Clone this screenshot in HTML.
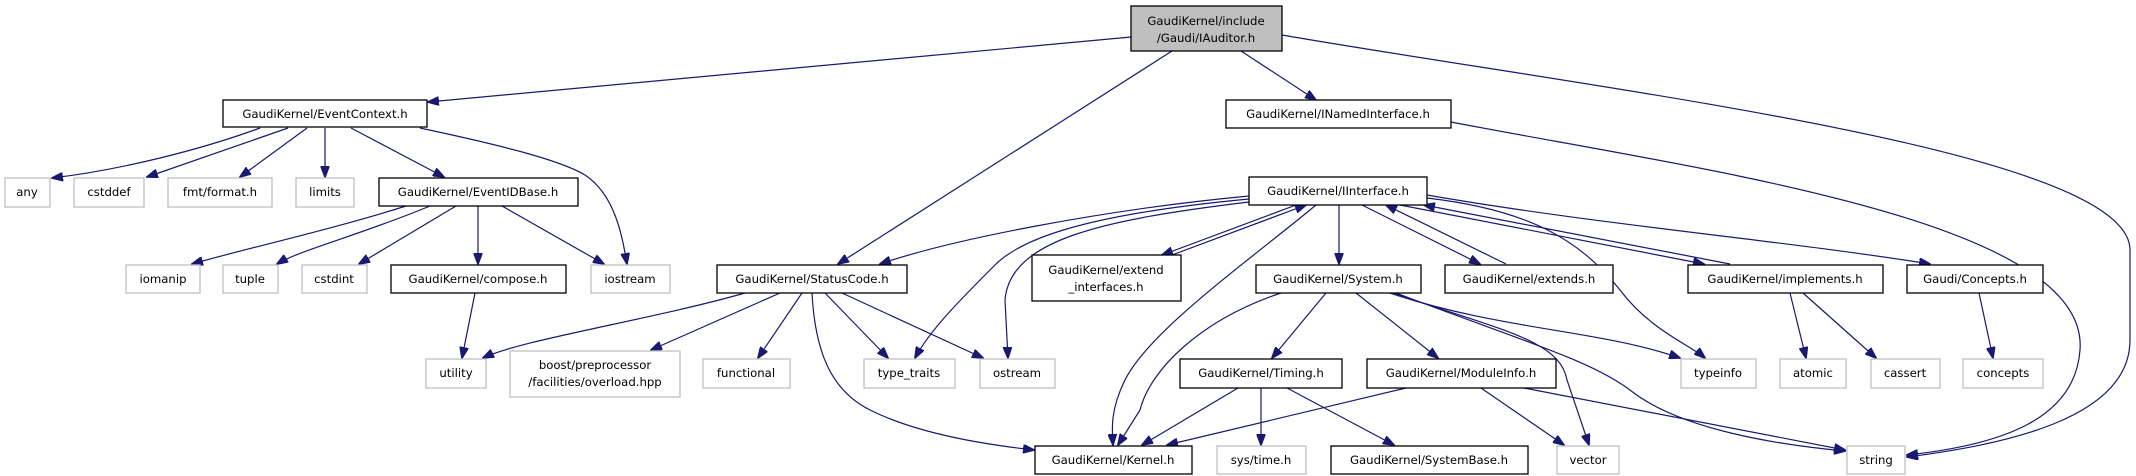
<!DOCTYPE html>
<html><head><meta charset="utf-8"><style>
html,body{margin:0;padding:0;background:#fff;}
svg{display:block;}
text{font-family:"DejaVu Sans","Liberation Sans",sans-serif;font-size:11.7px;fill:#000;}
.n{fill:#fff;stroke:#000;stroke-width:1.3;}
.s{fill:#fff;stroke:#bfbfbf;stroke-width:1.3;}
.r{fill:#bfbfbf;stroke:#000;stroke-width:1.3;}
path{fill:none;stroke:#191970;stroke-width:1.2;}
</style></head><body>
<svg width="2136" height="476" viewBox="0 0 2136 476" xmlns="http://www.w3.org/2000/svg">
<defs><marker id="a" markerWidth="12" markerHeight="9" refX="11" refY="4.5" orient="auto" markerUnits="userSpaceOnUse"><polygon points="0,0 12,4.5 0,9" fill="#191970" stroke="#191970"/></marker></defs>
<g marker-end="url(#a)">
<path d="M1131,37 L428,102"/>
<path d="M1172,51 L838,264"/>
<path d="M1241,51 L1316,100"/>
<path d="M1282,35 C1600,90 2130,150 2130,250 L2130,340 C2130,420 2000,445 1907,457"/>
<path d="M1451,122 C1700,170 2090,220 2080,350 C2075,420 2000,445 1907,455"/>
<path d="M260,128 C200,150 120,170 52,178"/>
<path d="M288,128 L147,177"/>
<path d="M307,128 L240,177"/>
<path d="M325,128 L325,177"/>
<path d="M351,128 L444,177"/>
<path d="M420,128 C500,145 560,160 585,175 C615,195 622,235 627,264"/>
<path d="M406,206 C330,230 240,250 192,264"/>
<path d="M430,206 C360,235 300,250 277,264"/>
<path d="M456,206 L359,264"/>
<path d="M478,206 L478,264"/>
<path d="M502,206 L604,264"/>
<path d="M475,293 L462,358"/>
<path d="M745,293 C650,320 520,340 483,358"/>
<path d="M780,293 L651,350"/>
<path d="M802,293 L758,358"/>
<path d="M825,293 L888,358"/>
<path d="M842,293 L983,358"/>
<path d="M812,293 C815,350 830,390 870,410 C920,435 990,445 1034,450"/>
<path d="M1249,196 C1100,210 950,240 880,264"/>
<path d="M1249,199 C1080,215 1020,240 995,265 C960,300 930,330 915,358"/>
<path d="M1249,202 C1100,220 1010,240 1005,300 L1008,358"/>
<path d="M1296,205 L1162,255"/>
<path d="M1172,255 L1306,205"/>
<path d="M1316,205 C1250,260 1150,330 1125,380 C1110,410 1112,430 1113,445"/>
<path d="M1339,205 L1339,264"/>
<path d="M1362,205 L1480,264"/>
<path d="M1506,264 L1386,205"/>
<path d="M1400,205 L1704,264"/>
<path d="M1730,264 L1424,205"/>
<path d="M1427,198 C1530,210 1580,240 1620,290 C1650,330 1690,345 1705,358"/>
<path d="M1427,195 C1600,225 1780,240 1930,264"/>
<path d="M1281,293 C1200,320 1150,370 1140,410 L1118,445"/>
<path d="M1326,293 L1272,358"/>
<path d="M1356,293 L1438,358"/>
<path d="M1390,293 C1500,330 1600,330 1680,358"/>
<path d="M1393,293 C1500,330 1560,340 1567,380 L1589,445"/>
<path d="M1396,293 C1520,340 1590,360 1630,390 C1680,430 1780,445 1845,451"/>
<path d="M1238,388 L1142,445"/>
<path d="M1261,388 L1261,445"/>
<path d="M1287,388 L1394,445"/>
<path d="M1406,388 L1167,445"/>
<path d="M1481,388 L1564,445"/>
<path d="M1524,388 L1845,450"/>
<path d="M1790,293 L1806,358"/>
<path d="M1803,293 L1876,358"/>
<path d="M1979,293 L1993,358"/>
</g>
<g text-anchor="middle">
<rect class="r" x="1131" y="6" width="151" height="45"/><text x="1206" y="25">GaudiKernel/include</text><text x="1206" y="42">/Gaudi/IAuditor.h</text>
<rect class="n" x="223" y="100" width="204" height="27"/><text x="325" y="118">GaudiKernel/EventContext.h</text>
<rect class="n" x="1226" y="100" width="225" height="28"/><text x="1338" y="118">GaudiKernel/INamedInterface.h</text>
<rect class="s" x="5" y="178" width="45" height="29"/><text x="27" y="196">any</text>
<rect class="s" x="74" y="178" width="70" height="29"/><text x="109" y="196">cstddef</text>
<rect class="s" x="168" y="178" width="104" height="29"/><text x="220" y="196">fmt/format.h</text>
<rect class="s" x="296" y="178" width="58" height="29"/><text x="325" y="196">limits</text>
<rect class="n" x="379" y="178" width="199" height="28"/><text x="478" y="196">GaudiKernel/EventIDBase.h</text>
<rect class="n" x="1249" y="177" width="178" height="28"/><text x="1338" y="195">GaudiKernel/IInterface.h</text>
<rect class="s" x="126" y="265" width="74" height="28"/><text x="163" y="283">iomanip</text>
<rect class="s" x="223" y="265" width="55" height="28"/><text x="250" y="283">tuple</text>
<rect class="s" x="302" y="265" width="65" height="28"/><text x="334" y="283">cstdint</text>
<rect class="n" x="391" y="265" width="175" height="28"/><text x="478" y="283">GaudiKernel/compose.h</text>
<rect class="s" x="591" y="265" width="79" height="28"/><text x="630" y="283">iostream</text>
<rect class="n" x="717" y="265" width="190" height="28"/><text x="812" y="283">GaudiKernel/StatusCode.h</text>
<rect class="n" x="1032" y="255" width="149" height="46"/><text x="1106" y="274">GaudiKernel/extend</text><text x="1106" y="291">_interfaces.h</text>
<rect class="n" x="1256" y="265" width="165" height="28"/><text x="1338" y="283">GaudiKernel/System.h</text>
<rect class="n" x="1445" y="265" width="168" height="28"/><text x="1529" y="283">GaudiKernel/extends.h</text>
<rect class="n" x="1688" y="265" width="195" height="28"/><text x="1785" y="283">GaudiKernel/implements.h</text>
<rect class="n" x="1907" y="265" width="136" height="28"/><text x="1975" y="283">Gaudi/Concepts.h</text>
<rect class="s" x="426" y="359" width="60" height="29"/><text x="456" y="377">utility</text>
<rect class="s" x="510" y="351" width="170" height="46"/><text x="595" y="369">boost/preprocessor</text><text x="595" y="386">/facilities/overload.hpp</text>
<rect class="s" x="703" y="359" width="87" height="29"/><text x="746" y="377">functional</text>
<rect class="s" x="864" y="359" width="91" height="29"/><text x="909" y="377">type_traits</text>
<rect class="s" x="980" y="359" width="75" height="29"/><text x="1017" y="377">ostream</text>
<rect class="n" x="1180" y="359" width="162" height="29"/><text x="1261" y="377">GaudiKernel/Timing.h</text>
<rect class="n" x="1367" y="359" width="189" height="29"/><text x="1461" y="377">GaudiKernel/ModuleInfo.h</text>
<rect class="s" x="1681" y="359" width="75" height="29"/><text x="1718" y="377">typeinfo</text>
<rect class="s" x="1780" y="359" width="66" height="29"/><text x="1813" y="377">atomic</text>
<rect class="s" x="1871" y="359" width="69" height="29"/><text x="1905" y="377">cassert</text>
<rect class="s" x="1963" y="359" width="80" height="29"/><text x="2003" y="377">concepts</text>
<rect class="n" x="1035" y="446" width="157" height="28"/><text x="1113" y="464">GaudiKernel/Kernel.h</text>
<rect class="s" x="1217" y="446" width="89" height="28"/><text x="1261" y="464">sys/time.h</text>
<rect class="n" x="1331" y="446" width="197" height="28"/><text x="1429" y="464">GaudiKernel/SystemBase.h</text>
<rect class="s" x="1557" y="446" width="62" height="28"/><text x="1588" y="464">vector</text>
<rect class="s" x="1847" y="446" width="58" height="28"/><text x="1876" y="464">string</text>
</g>
</svg>
</body></html>
